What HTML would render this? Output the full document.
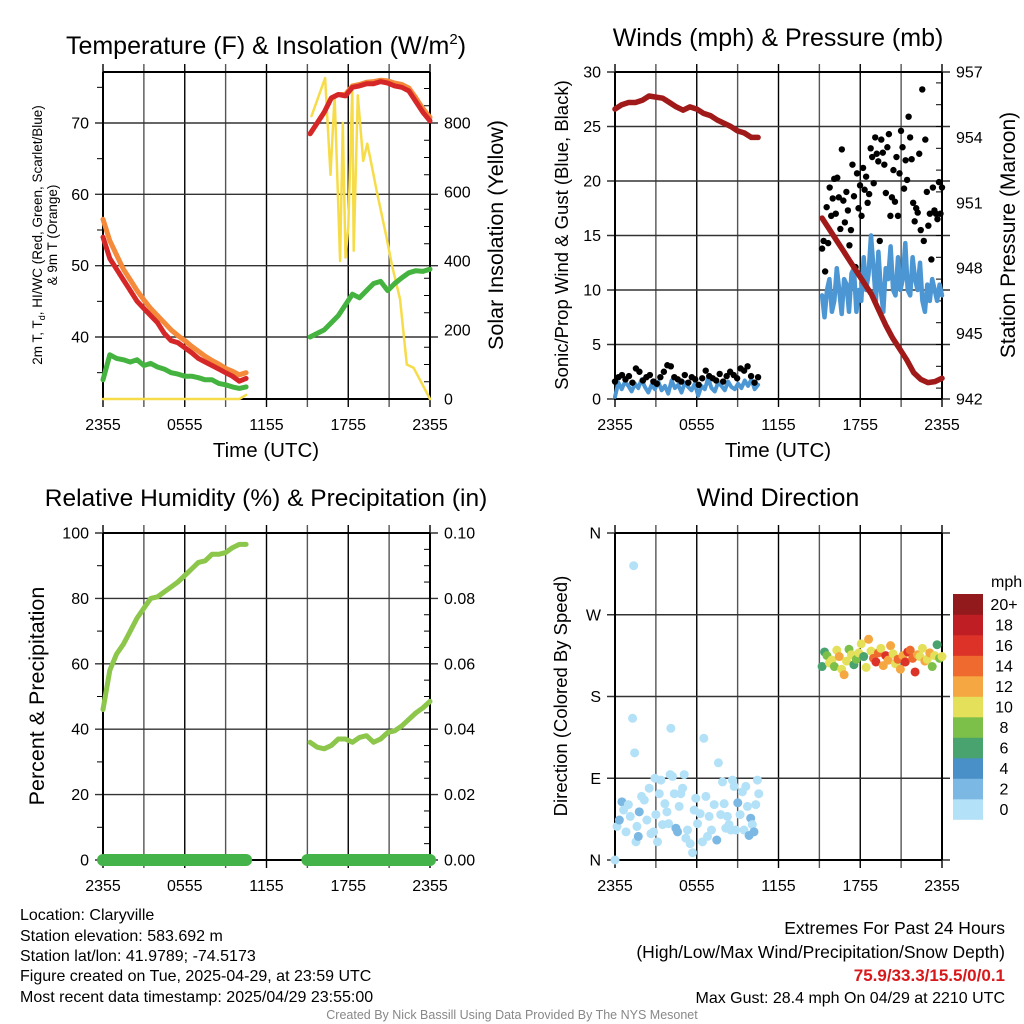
<!DOCTYPE html>
<html><head><meta charset="utf-8">
<style>
html,body{margin:0;padding:0;background:#fff;}
svg{display:block;font-family:"Liberation Sans",sans-serif;}
</style></head>
<body>
<svg id="chart" width="1024" height="1024" viewBox="0 0 1024 1024" xmlns="http://www.w3.org/2000/svg">
<rect x="0" y="0" width="1024" height="1024" fill="#fff"/>
<g id="layer"></g>
<g font-size="16" fill="#000">
<text x="20" y="920">Location: Claryville</text>
<text x="20" y="941">Station elevation: 583.692 m</text>
<text x="20" y="961">Station lat/lon: 41.9789; -74.5173</text>
<text x="20" y="981">Figure created on Tue, 2025-04-29, at 23:59 UTC</text>
<text x="20" y="1002">Most recent data timestamp: 2025/04/29 23:55:00</text>
<text x="1005" y="934" text-anchor="end" font-size="17.5">Extremes For Past 24 Hours</text>
<text x="1005" y="958" text-anchor="end" font-size="17.5">(High/Low/Max Wind/Precipitation/Snow Depth)</text>
<text x="1005" y="981" text-anchor="end" font-size="17" font-weight="bold" fill="#d7191c">75.9/33.3/15.5/0/0.1</text>
<text x="1005" y="1003" text-anchor="end" font-size="16">Max Gust: 28.4 mph On 04/29 at 2210 UTC</text>
<text x="512" y="1019" text-anchor="middle" font-size="12.5" fill="#888">Created By Nick Bassill Using Data Provided By The NYS Mesonet</text>
</g>
</svg>
<script>
// ---------- data ----------
const xTickLabels = ["2355","0555","1155","1755","2355"];
const seg1Start = 0, seg1End = 10.5, seg2Start = 15.5, seg2End = 24;
const tempLeftTicks = [40,50,60,70];
const solarTicks = [0,200,400,600,800];
const windTicks = [0,5,10,15,20,25,30];
const presTicks = [942,945,948,951,954,957];
const rhTicks = [0,20,40,60,80,100];
const precipTicks = ["0.00","0.02","0.04","0.06","0.08","0.10"];
const dirTickLabels = ["N","E","S","W","N"];
const legendLabels = ["0","2","4","6","8","10","12","14","16","18","20+"];

const temp1 = [54,51,49.5,48,46.5,45,44,43,42,40.5,39.5,39.2,38.5,37.8,37,36.5,36,35.5,35,34.5,33.8,34.2];
const temp2 = [68.5,70,71.5,73.5,74,73.8,75,75.2,75.5,75.5,75.8,75.6,75.2,75,74.5,73,71.5,70.3];
const t9m1 = [56.5,53.5,51.5,49.5,48,46.5,45.2,44,43,42,41,40.2,39.5,38.7,38,37.3,36.7,36.2,35.6,35.2,34.7,35];
const t9m2 = [68.5,70,71.5,73.5,74,74,75.2,75.4,75.7,75.8,76,75.9,75.6,75.4,74.9,73.5,72,70.8];
const dew1 = [34,37.5,37,36.8,36.5,36.8,36,36.3,35.8,35.5,35,34.8,34.5,34.5,34.3,34,34,33.5,33.3,33,32.8,33];
const dew2 = [40,40.5,41,42,43,44.5,46,45.5,46.5,47.5,47.8,46.5,47.5,48.3,49,49.3,49.2,49.5];
const solarTimes1 = [0,10,10.5];
const solarVals1 = [0,0,12];
const solarTimes2 = [15.3,16.3,16.7,17.0,17.4,17.6,17.8,18.0,18.3,18.4,18.7,19.1,19.4,19.6,20.1,20.8,21.2,21.8,22.3,22.8,24];
const solarVals2 = [820,930,650,880,400,800,410,500,900,430,880,690,740,700,600,470,390,290,100,90,0];

const pres1 = [955.3,955.5,955.6,955.6,955.7,955.9,955.85,955.8,955.6,955.4,955.25,955.4,955.3,955.1,955,954.8,954.65,954.5,954.3,954.2,954.0,954.0];
const pres2 = [950.3,949.8,949.3,948.8,948.3,947.8,947.3,946.8,946.1,945.4,944.8,944.3,943.8,943.2,942.9,942.75,942.8,942.95];
const wind1 = [0.2,1.5,0.9,1.6,1.2,0.7,1.4,1.0,1.8,1.1,0.6,1.3,0.9,1.6,0.8,1.2,0.5,1.7,1.0,1.3,0.6,1.5,1.1,0.8,1.4,0.3,1.2,0.9,1.9,1.0,0.7,1.5,1.2,0.8,1.6,1.1,0.9,1.4,1.0,1.7,1.2,1.8,0.9,1.3];
const wind2 = [9.5,7.5,10,11,8,9,12,10,7.8,11,10.5,8,11.5,12,8,10,9,13,10,11.5,15,12,9,13.5,10,8,12,11,14,10,9.5,13,10,11,14.3,10,9.5,13,11,10,12.5,9,8,10.5,9,11,10,9,10.5,9.5];
const gust1 = [1.6,2,2.2,1.8,2.1,1.5,2.8,2.5,1.7,2.0,2.2,1.6,1.4,2.0,2.5,3.1,3.0,2.0,1.8,1.6,2.2,1.5,2.0,1.8,1.3,1.9,2.6,2.1,1.9,1.7,2.3,1.6,2.1,2.5,2.2,1.9,2.8,2.6,3.0,2.1,1.5,2.0];
const gust2 = [13.8,14.5,11.7,17.6,14.3,19.4,16.8,18.4,20.2,17,20.3,18.5,15.6,22.9,18.2,16.2,19,17.3,14.1,15.5,21.5,18.6,12.1,20.7,17.5,19.6,16.8,21.2,19.2,20.4,18,18.8,23,22.2,19.8,24,22.5,21.8,14.5,23.8,22.6,21.5,18.9,23.1,24.3,16.8,18.5,21,18.1,22.2,16.8,20.7,24.6,23.1,19.3,21.9,20.1,25.9,24,22,18,16.3,17.5,17.1,22.5,15.5,28.4,14.5,23.8,19,15.9,17,12.8,19.4,17.3,17,16.5,19.9,17,19.4];

const rh1 = [46,58,63,66,70,74,77,80,80.5,82,83.5,85,87,89,91,91.5,93.5,93.5,94,95.5,96.5,96.5];
const rh2 = [36,34.5,34,35,37,37,36,37.5,38,36,37,39,39.5,41,43,45,46.5,48.5];
const precip1 = [0,0];
const precip2 = [0,0];

const dirTimes1 = [0,0.15,0.32,0.51,0.63,0.81,0.98,1.12,1.29,1.37,1.44,1.54,1.61,1.71,1.78,1.95,2.15,2.34,2.51,2.64,2.83,2.93,3.0,3.12,3.25,3.37,3.49,3.66,3.81,3.93,4.05,4.10,4.22,4.35,4.47,4.59,4.71,4.83,4.96,5.08,5.2,5.32,5.52,5.69,5.81,5.93,6.06,6.25,6.42,6.52,6.67,6.79,6.91,7.08,7.28,7.47,7.59,7.76,7.89,8.01,8.13,8.25,8.37,8.5,8.62,8.74,8.86,9.01,9.18,9.35,9.47,9.6,9.72,9.84,9.96,10.08,10.2,10.33,10.45,10.55];
const dirs1 = [0,37,44,64,55,31,61,48,156,324,118,20,37,26,53,70,66,44,79,29,31,90,50,20,73,88,39,62,53,40,94,145,92,73,35,31,59,73,79,94,24,33,18,8,55,68,40,51,20,134,70,26,48,33,61,22,107,50,86,62,35,48,39,33,88,81,33,63,50,75,33,81,59,27,46,39,31,61,88,73];
const speeds1 = [1,1,3,3,1,1,1,1,1,1,1,1,1,3,3,1,1,1,1,1,1,1,1,1,1,1,1,1,1,1,1,1,1,1,3,3,1,1,1,1,1,1,1,1,1,1,1,1,1,1,1,1,1,1,1,3,1,1,1,1,1,1,1,1,1,1,1,3,1,1,1,1,1,3,3,1,3,1,1,1];
const dirs2 = [213,229,225,217,220,213,231,224,210,204,219,232,226,215,221,228,238,224,212,243,230,222,218,228,233,214,225,220,236,227,216,221,210,225,218,229,231,222,207,226,224,233,219,221,228,213,225,237,222,224];
const speeds2 = [7,6,8,10,11,9,10,13,11,12,10,8,10,6,9,11,10,6,10,12,11,15,17,14,10,12,16,13,12,11,10,14,13,12,16,17,15,14,16,12,11,10,13,11,12,8,10,6,9,10];
const legendColors = ["#b3e1f7","#7bb8e3","#4a90c8","#48a36e","#7cc04a","#e5e05a","#f5a841","#ef6a2e","#dd3228","#bf1e24","#931a1c"];

// ---------- drawing ----------
const NS = "http://www.w3.org/2000/svg";
const layer = document.getElementById("layer");
function mk(tag, attrs, parent) {
  const el = document.createElementNS(NS, tag);
  for (const k in attrs) el.setAttribute(k, attrs[k]);
  (parent || layer).appendChild(el);
  return el;
}
function lin(d0, d1, r0, r1) { return v => r0 + (v - d0) / (d1 - d0) * (r1 - r0); }
function segTimes(n, a, b) { const o = []; for (let i = 0; i < n; i++) o.push(a + (b - a) * i / (n - 1)); return o; }

function frame(x0, x1, y0, y1, yT, leftVals, leftLabels, rightVals, rightLabels, name) {
  const g = mk("g", {});
  
  
  const xs = lin(0, 24, x0, x1);
  for (let h = 0; h <= 24; h += 3) {
    const x = xs(h);
    const l = mk("line", {x1: x, x2: x, y1: y0 - 8, y2: y1 + 8, stroke: (h % 6 === 0) ? "#000" : "#555", "stroke-width": 1.4}, g);
    
    
  }
  for (let i = 0; i < xTickLabels.length; i++) {
    const t = mk("text", {x: xs(i * 6), y: y1 + 31, "text-anchor": "middle", "font-size": 16}, g);
    
    
    t.textContent = xTickLabels[i];
  }
  for (let i = 0; i < leftVals.length; i++) {
    const y = yT(leftVals[i]);
    const l = mk("line", {x1: x0 - 8, x2: x1 + 8, y1: y, y2: y, stroke: "#333", "stroke-width": 1.4}, g);
    
    
    const t = mk("text", {x: x0 - 14, y: y + 5.5, "text-anchor": "end", "font-size": 16}, g);
    
    
    t.textContent = leftLabels[i];
  }
  if (rightVals) {
    for (let i = 0; i < rightVals.length; i++) {
      const t = mk("text", {x: x1 + 14, y: rightVals[i] + 5.5, "font-size": 16}, g);
      
      
      t.textContent = rightLabels[i];
    }
  }
  const b = mk("path", {d: `M${x0},${y0}V${y1}H${x1}M${x1},${y0}V${y1}M${x0},${y0}H${x1}`, stroke: "#000", "stroke-width": 2, fill: "none"}, g);
  
  
  return xs;
}
function line(xs, ys, times, vals, color, w, name) {
  const pts = times.map((t, i) => xs(t).toFixed(1) + "," + ys(vals[i]).toFixed(1)).join(" ");
  const p = mk("polyline", {points: pts, fill: "none", stroke: color, "stroke-width": w, "stroke-linejoin": "round", "stroke-linecap": "round"});
  
  
}
function dots(xs, ys, times, vals, color, r, name) {
  const g = mk("g", {fill: color});
  
  
  times.forEach((t, i) => {
    const c = mk("circle", {cx: xs(t), cy: ys(vals[i]), r: r}, g);
    
    
  });
}
function text(x, y, s, size, name, rot, anchor) {
  const t = mk("text", {x: x, y: y, "font-size": size, "text-anchor": anchor || "middle"});
  if (rot) t.setAttribute("transform", `rotate(-90 ${x} ${y})`);
  
  
  t.textContent = s;
  return t;
}

// Panel 1: temperature
{
  const yT = lin(40, 70, 337, 123);
  const yS = lin(0, 800, 399, 123);
  const xs = frame(103, 430, 72, 399, yT, tempLeftTicks, tempLeftTicks.map(String), solarTicks.map(yS), solarTicks.map(String), 'temperature');
  for (let v = 0; v <= 900; v += 50) { if (v % 200) { const l = mk("line", {x1: 430, x2: 424, y1: yS(v), y2: yS(v), stroke: "#000", "stroke-width": 1});   } }
  for (let v = 35; v <= 75; v += 10) { const l = mk("line", {x1: 103, x2: 97, y1: yT(v), y2: yT(v), stroke: "#000", "stroke-width": 1});   }
  const t1 = segTimes(temp1.length, seg1Start, seg1End), t2 = segTimes(temp2.length, seg2Start - 0.3, seg2End);
  line(xs, yS, solarTimes1, solarVals1, "#f7dc4a", 2.5, "solar-line-1");
  line(xs, yS, solarTimes2, solarVals2, "#f7dc4a", 2.5, "solar-line-2");
  line(xs, yT, t1, t9m1, "#f48a3a", 5, "temp-9m-line-1");
  line(xs, yT, t2, t9m2, "#f48a3a", 5, "temp-9m-line-2");
  line(xs, yT, t1, temp1, "#d62728", 5, "temp-2m-line-1");
  line(xs, yT, t2, temp2, "#d62728", 5, "temp-2m-line-2");
  line(xs, yT, t1, dew1, "#44b33f", 5, "dewpoint-line-1");
  line(xs, yT, t2, dew2, "#44b33f", 5, "dewpoint-line-2");
  const tt = mk("text", {x: 266, y: 54, "font-size": 25, "text-anchor": "middle"});
  
  
  tt.innerHTML = 'Temperature (F) &amp; Insolation (W/m<tspan font-size="15" dy="-10">2</tspan><tspan dy="10">)</tspan>';
  const yl = mk("text", {x: 0, y: 0, "font-size": 13.5, "text-anchor": "middle", transform: "translate(42,235) rotate(-90)"});
  
  
  yl.innerHTML = '2m T, T<tspan font-size="9" dy="3">d</tspan><tspan dy="-3">, HI/WC (Red, Green, Scarlet/Blue)</tspan>';
  text(57, 235, "& 9m T (Orange)", 13.5, "temperature-y-title-2", true);
  text(503, 235, "Solar Insolation (Yellow)", 21.5, "solar-y-title", true);
  text(266, 457, "Time (UTC)", 20.5, "time-axis-title-1");
}
// Panel 2: winds
{
  const yW = lin(0, 30, 399, 72);
  const yP = lin(942, 957, 399, 72);
  const xs = frame(615, 942, 72, 399, yW, windTicks, windTicks.map(String), presTicks.map(yP), presTicks.map(String), 'winds');
  for (let v = 942.5; v < 957; v += 1) { const l = mk("line", {x1: 942, x2: 936, y1: yP(v), y2: yP(v), stroke: "#000", "stroke-width": 1});   }
  const t1 = segTimes(wind1.length, seg1Start, seg1End), t2 = segTimes(wind2.length, seg2Start - 0.3, seg2End);
  line(xs, yW, t1, wind1, "#4c97d3", 4, "wind-speed-line-1");
  line(xs, yW, t2, wind2, "#4c97d3", 4.5, "wind-speed-line-2");
  dots(xs, yW, segTimes(gust1.length, seg1Start, seg1End), gust1, "#000", 3.2, "gust-dots-1");
  dots(xs, yW, segTimes(gust2.length, seg2Start - 0.3, seg2End), gust2, "#000", 3.2, "gust-dots-2");
  line(xs, yP, segTimes(pres1.length, seg1Start, seg1End), pres1, "#a01a1a", 5.5, "pressure-line-1");
  line(xs, yP, segTimes(pres2.length, seg2Start - 0.3, seg2End), pres2, "#a01a1a", 5.5, "pressure-line-2");
  text(778, 46, "Winds (mph) & Pressure (mb)", 25, "winds-title");
  text(568, 235, "Sonic/Prop Wind & Gust (Blue, Black)", 18.5, "wind-y-title", true);
  text(1015, 235, "Station Pressure (Maroon)", 21, "pressure-y-title", true);
  text(778, 457, "Time (UTC)", 20.5, "time-axis-title-2");
}
// Panel 3: RH
{
  const yR = lin(0, 100, 860, 533);
  const xs = frame(103, 430, 533, 860, yR, rhTicks, rhTicks.map(String), rhTicks.map(yR), precipTicks, 'humidity');
  for (let v = 5; v < 100; v += 5) { if (v % 20) { const l = mk("line", {x1: 430, x2: 424, y1: yR(v), y2: yR(v), stroke: "#000", "stroke-width": 1});   } }
  for (let v = 10; v < 100; v += 20) { const l = mk("line", {x1: 103, x2: 97, y1: yR(v), y2: yR(v), stroke: "#000", "stroke-width": 1});   }
  const yPr = lin(0, 0.1, 860, 533);
  line(xs, yPr, [seg1Start, seg1End], precip1, "#44b34a", 12, "precip-line-1");
  line(xs, yPr, [seg2Start - 0.5, seg2End], precip2, "#44b34a", 12, "precip-line-2");
  line(xs, yR, segTimes(rh1.length, seg1Start, seg1End), rh1, "#8cc64a", 5, "rh-line-1");
  line(xs, yR, segTimes(rh2.length, seg2Start - 0.3, seg2End), rh2, "#8cc64a", 5, "rh-line-2");
  text(266, 506, "Relative Humidity (%) & Precipitation (in)", 24.5, "humidity-title");
  text(44, 696, "Percent & Precipitation", 21.5, "humidity-y-title", true);
}
// Panel 4: wind direction
{
  const yD = lin(0, 360, 860, 533);
  const xs = frame(615, 942, 533, 860, yD, [0,90,180,270,360], dirTickLabels, null, null, 'wind-direction');
  const col = s => legendColors[Math.min(10, Math.floor(s / 2))];
  const g = mk("g", {});
  
  
  dirTimes1.forEach((t, i) => {
    const c = mk("circle", {cx: xs(t), cy: yD(dirs1[i]), r: 4.5, fill: col(speeds1[i])}, g);
    
    
  });
  segTimes(dirs2.length, seg2Start - 0.3, seg2End).forEach((t, i) => {
    const c = mk("circle", {cx: xs(t), cy: yD(dirs2[i]), r: 4.5, fill: col(speeds2[i])}, g);
    
    
  });
  text(778, 506, "Wind Direction", 25, "wind-direction-title");
  text(567, 696, "Direction (Colored By Speed)", 18.5, "direction-y-title", true);
  const lg = mk("g", {});
  
  
  const top = 594, bh = 20.5;
  legendLabels.forEach((lab, i) => {
    const y = top + (10 - i) * bh;
    const r = mk("rect", {x: 953, y: y, width: 30, height: bh + 0.3, fill: legendColors[i]}, lg);
    
    
    const t = mk("text", {x: 1004, y: y + 16, "font-size": 16, "text-anchor": "middle"}, lg);
    
    
    t.textContent = lab;
  });
  const u = mk("text", {x: 991, y: 587, "font-size": 16}, lg);
  
  
  u.textContent = "mph";
}
</script>
</body></html>
